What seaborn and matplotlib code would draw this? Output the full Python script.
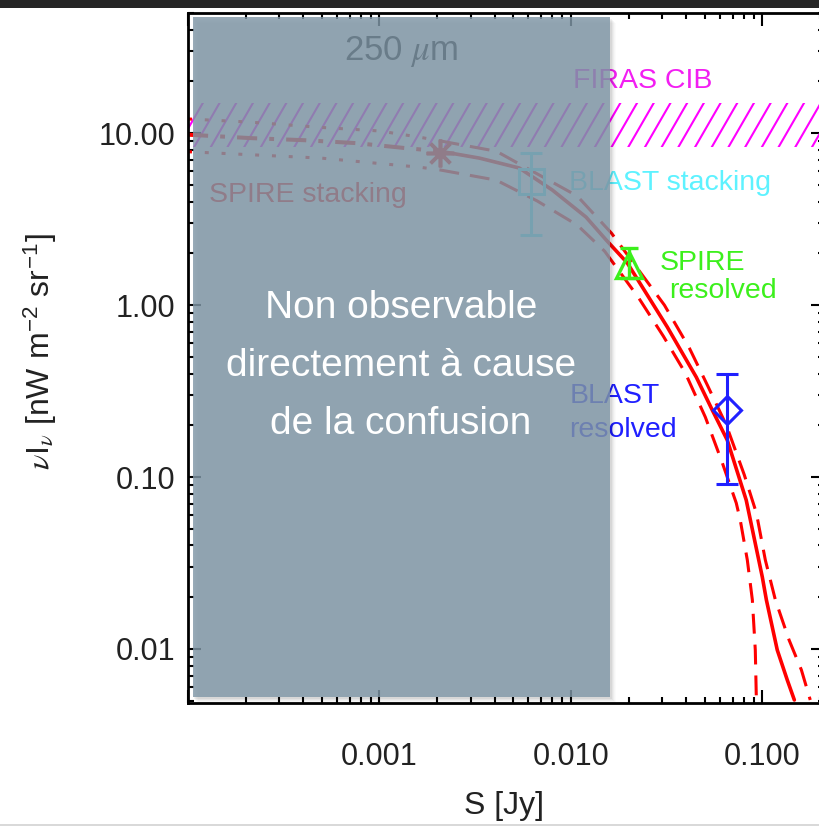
import matplotlib
matplotlib.use("Agg")
import matplotlib.pyplot as plt
import seaborn as sns
from matplotlib.patches import Rectangle
from matplotlib.lines import Line2D
from matplotlib import font_manager
from matplotlib.ticker import FixedLocator, FixedFormatter, LogLocator, NullFormatter
import numpy as np

# ---- model: cumulative background from counts (S in Jy, nuI_nu in nW m^-2 sr^-1)
model_S = [1.0e-4, 2.17e-4, 4.06e-4, 7.6e-4, 1.38e-3, 2.06e-3, 3.33e-3, 5.38e-3,
           8.0e-3, 1.2e-2, 1.53e-2, 1.97e-2, 3.19e-2, 4.52e-2, 5.48e-2, 6.56e-2,
           8.24e-2, 0.100, 0.105, 0.1197, 0.135, 0.147]
model_I = [9.8, 9.35, 9.1, 8.75, 8.18, 7.86, 7.16, 6.27,
           4.67, 3.25, 2.39, 1.76, 0.745, 0.381, 0.245, 0.164,
           0.0734, 0.0262, 0.0193, 0.00986, 0.0066, 0.00505]

upper_S = [1.0e-4, 2.1e-4, 4.97e-4, 1.0e-3, 1.62e-3, 2.06e-3, 4.08e-3, 1.08e-2,
           1.63e-2, 3.08e-2, 4.16e-2, 5.16e-2, 6.49e-2, 8.05e-2, 9.31e-2, 0.1037,
           0.117, 0.138, 0.160, 0.178]
upper_I = [12.1, 11.6, 10.8, 10.3, 9.48, 9.03, 7.85, 4.31,
           2.62, 1.0, 0.562, 0.343, 0.200, 0.103, 0.0618, 0.0329,
           0.0193, 0.01127, 0.00755, 0.00505]

lower_S = [1.0e-4, 4.97e-4, 1.62e-3, 2.06e-3, 4.08e-3, 6.68e-3, 1.08e-2, 1.50e-2,
           2.25e-2, 3.04e-2, 3.96e-2, 5.04e-2, 6.18e-2, 7.31e-2, 7.67e-2, 8.35e-2,
           8.87e-2, 9.19e-2, 9.31e-2, 0.094]
lower_I = [7.8, 7.16, 6.34, 6.12, 5.33, 4.03, 2.92, 2.06,
           1.11, 0.66, 0.403, 0.223, 0.121, 0.0706, 0.0562, 0.0329,
           0.0193, 0.00986, 0.00505, 0.0036]

S_confusion = 2.06e-3   # below this flux the model is an extrapolation

# ---- measurements
spire_stack_S, spire_stack_I = 2.06e-3, 7.66
blast_stack_S, blast_stack_I, blast_stack_lo, blast_stack_hi = 6.22e-3, 5.26, 2.55, 7.66
spire_res_S, spire_res_I, spire_res_lo, spire_res_hi = 0.0202, 1.71, 1.44, 2.14
blast_res_S, blast_res_I, blast_res_lo, blast_res_hi = 0.0656, 0.245, 0.091, 0.397

firas_lo, firas_hi = 8.3, 15.0

x_ticks = [1e-4, 1e-3, 1e-2, 1e-1]
x_ticklabels = ["", "0.001", "0.010", "0.100"]
y_ticks = [0.01, 0.1, 1.0, 10.0]
y_ticklabels = ["0.01", "0.10", "1.00", "10.00"]

RED = "#ff0000"
GREEN = "#3cf01c"
BLUE = "#2020ff"
CYAN = "#5ef2ff"
MAGENTA = "#f21ef2"


def have_font(name):
    try:
        font_manager.findfont(name, fallback_to_default=False)
        return True
    except Exception:
        return False


sns.set_theme(style="ticks")
plt.rcParams["font.family"] = ["Liberation Sans", "DejaVu Sans"]
plt.rcParams["mathtext.fontset"] = "custom"
plt.rcParams["mathtext.rm"] = "Liberation Sans"
plt.rcParams["mathtext.it"] = "STIXGeneral:italic"
plt.rcParams["axes.linewidth"] = 2.0
plt.rcParams["axes.edgecolor"] = "black"

narrow = have_font("Liberation Sans Narrow")

fig = plt.figure(figsize=(8.19, 8.26), dpi=100)
fig.patch.set_facecolor("white")
W, H = 819.0, 826.0
ax = fig.add_axes([188 / W, 1 - 703 / H, 636 / W, 690 / H])
ax.set_xscale("log")
ax.set_yscale("log")
ax.set_xlim(1e-4, 0.21)
ax.set_ylim(0.00485, 50)
ax.set_facecolor("white")


def split(xs, ys, at):
    left = [(x, y) for x, y in zip(xs, ys) if x <= at]
    right = [(x, y) for x, y in zip(xs, ys) if x >= at]
    return list(zip(*left)), list(zip(*right))


def draw(xs, ys, **kw):
    sns.lineplot(x=list(xs), y=list(ys), ax=ax, estimator=None, sort=False, **kw)


# FIRAS CIB band with steep hatching
band = ax.fill_between([1e-4, 0.21], [firas_lo] * 2, [firas_hi] * 2,
                       facecolor="none", edgecolor="none", zorder=1)
ax_w_px, ax_h_px = 636.0, 690.0
ang = np.deg2rad(60)
dx_ax = (ax_h_px / np.tan(ang)) / ax_w_px
step = 16.7 / ax_w_px
for x0 in np.arange(-dx_ax - step, 1.0 + step, step):
    ln = Line2D([x0, x0 + dx_ax], [0, 1], transform=ax.transAxes,
                color="#ff00ff", lw=1.5, zorder=1)
    ax.add_line(ln)
    ln.set_clip_path(band.get_paths()[0], ax.transData)

# model and its envelope
(mLx, mLy), (mRx, mRy) = split(model_S, model_I, S_confusion)
(uLx, uLy), (uRx, uRy) = split(upper_S, upper_I, S_confusion)
(lLx, lLy), (lRx, lRy) = split(lower_S, lower_I, S_confusion)

draw(mLx, mLy, color=RED, linewidth=2.9, linestyle=(0, (5, 3, 1.2, 3)))
draw(mRx, mRy, color=RED, linewidth=2.6)
for xs, ys in [(uLx, uLy), (lLx, lLy)]:
    draw(xs, ys, color=RED, linewidth=2.2, linestyle=(0, (1.3, 4.2)))
for xs, ys in [(uRx, uRy), (lRx, lRy)]:
    draw(xs, ys, color=RED, linewidth=2.2, linestyle=(0, (6.5, 3.6)))

# data points
ax.plot([spire_stack_S], [spire_stack_I], linestyle="none", marker=(8, 2, 0),
        ms=20, mew=2.6, color=RED, zorder=4)
ax.errorbar([blast_stack_S], [blast_stack_I],
            yerr=[[blast_stack_I - blast_stack_lo], [blast_stack_hi - blast_stack_I]],
            fmt="s", ms=18, mfc="none", mec=CYAN, mew=2.2, ecolor=CYAN,
            elinewidth=2.2, capsize=8, capthick=2.2, zorder=4)
ax.errorbar([spire_res_S], [spire_res_I],
            yerr=[[spire_res_I - spire_res_lo], [spire_res_hi - spire_res_I]],
            fmt="^", ms=19, mfc="none", mec=GREEN, mew=2.4, ecolor=GREEN,
            elinewidth=2.4, capsize=6.5, capthick=2.4, zorder=4)
ax.errorbar([blast_res_S], [blast_res_I],
            yerr=[[blast_res_I - blast_res_lo], [blast_res_hi - blast_res_I]],
            fmt="D", ms=14.5, mfc="none", mec=BLUE, mew=2.2, ecolor=BLUE,
            elinewidth=2.2, capsize=8, capthick=2.2, zorder=4)

# annotations
lab = 20.5
ax.text(6.56e-4, 26.5, r"250 $\mu$m", fontsize=25, color="black", va="baseline")
ax.text(0.0103, 18.3, "FIRAS CIB", fontsize=lab, color=MAGENTA, va="baseline")
ax.text(1.29e-4, 3.97, "SPIRE stacking", fontsize=lab, color=RED, va="baseline")
ax.text(9.8e-3, 4.67, "BLAST stacking", fontsize=lab, color=CYAN, va="baseline")
ax.text(0.029, 1.60, "SPIRE", fontsize=lab, color=GREEN, va="baseline")
ax.text(0.0327, 1.10, "resolved", fontsize=lab, color=GREEN, va="baseline")
ax.text(9.8e-3, 0.269, "BLAST", fontsize=lab, color=BLUE, va="baseline")
ax.text(9.8e-3, 0.171, "resolved", fontsize=lab, color=BLUE, va="baseline")

# axes, ticks
ax.xaxis.set_major_locator(FixedLocator(x_ticks))
ax.xaxis.set_major_formatter(FixedFormatter(x_ticklabels))
ax.yaxis.set_major_locator(FixedLocator(y_ticks))
ax.yaxis.set_major_formatter(FixedFormatter(y_ticklabels))
ax.xaxis.set_minor_locator(LogLocator(base=10, subs=np.arange(2, 10), numticks=20))
ax.yaxis.set_minor_locator(LogLocator(base=10, subs=np.arange(2, 10), numticks=20))
ax.xaxis.set_minor_formatter(NullFormatter())
ax.yaxis.set_minor_formatter(NullFormatter())
ax.tick_params(which="both", direction="in", top=True, right=True, color="black",
               width=1.5)
ax.tick_params(which="major", length=9.5)
ax.tick_params(which="minor", length=4.5)
ax.tick_params(axis="x", which="major", pad=28, labelsize=22, labelcolor="#222222")
ax.tick_params(axis="y", which="major", pad=9, labelsize=22, labelcolor="#222222")
for s in ax.spines.values():
    s.set_linewidth(2.0)
    s.set_color("black")

ax.set_xlabel("S [Jy]", fontsize=23, color="#222222")
ax.set_ylabel(r"$\nu$I$_{\nu}$ [nW m$^{-2}$ sr$^{-1}$]", fontsize=23, color="#222222")
ax.xaxis.set_label_coords((504 - 188) / 636, (703 - 806) / 690)
ax.xaxis.label.set_va("center")
ax.yaxis.set_label_coords((40 - 188) / 636, (703 - 352) / 690)
ax.yaxis.label.set_va("center")

# translucent overlay panel with soft shadow
bx0, by_top, bx1, by_bot = 193, 17, 610, 697
for k, a in enumerate([0.05, 0.04, 0.03, 0.02, 0.015]):
    off = k + 1
    fig.add_artist(Rectangle(((bx0 + off) / W, 1 - (by_bot + off + 1) / H),
                             (bx1 - bx0 + 1) / W, (by_bot - by_top) / H,
                             transform=fig.transFigure, facecolor="black",
                             edgecolor="none", alpha=a, zorder=4))
fig.add_artist(Rectangle((bx0 / W, 1 - by_bot / H), (bx1 - bx0) / W,
                         (by_bot - by_top) / H, transform=fig.transFigure,
                         facecolor="#8198a8", edgecolor="none", alpha=0.82,
                         zorder=5))

if narrow:
    box_font, box_size = ["Liberation Sans Narrow", "DejaVu Sans"], 33
else:
    box_font, box_size = ["Liberation Sans", "DejaVu Sans"], 28
box_lines = ["Non observable", "directement à cause", "de la confusion"]
for line, yb in zip(box_lines, [318, 376, 434]):
    fig.text(401 / W, 1 - yb / H, line, ha="center", va="baseline",
             fontsize=box_size, color="white", family=box_font, zorder=6)

# frame details of the slide
fig.add_artist(Rectangle((0, 1 - 8 / H), 1, 8 / H, transform=fig.transFigure,
                         facecolor="#262626", edgecolor="none", zorder=10))
fig.add_artist(Line2D([0, 1], [1.5 / H, 1.5 / H], transform=fig.transFigure,
                      color="#d2d2d2", lw=1.2, zorder=10))

fig.savefig("out.png", dpi=100)
